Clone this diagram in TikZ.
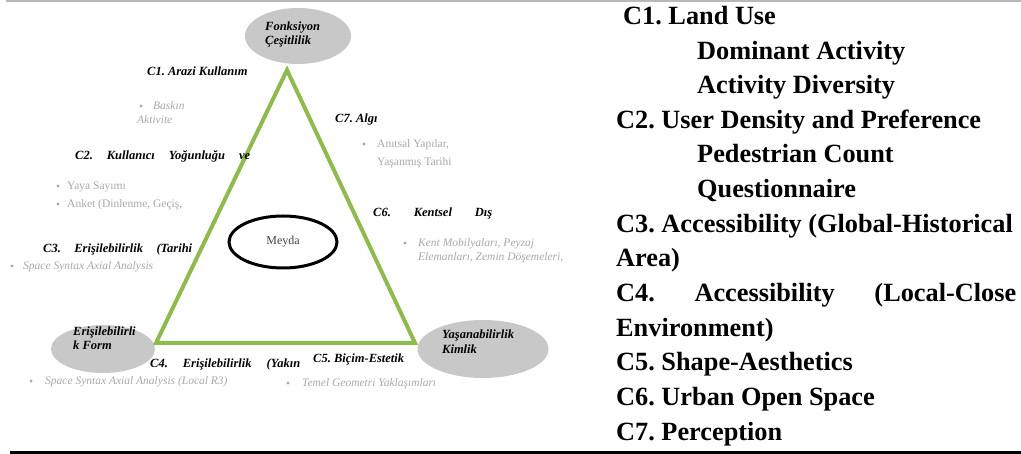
\documentclass[tikz,border=0pt]{standalone}
\usepackage{fontspec}
\setmainfont{Liberation Serif}
\usetikzlibrary{shapes.geometric}
\definecolor{tgreen}{HTML}{8DBB50}
\definecolor{egray}{HTML}{C8C8C8}
\definecolor{tgray}{HTML}{A8A8A8}
\tikzset{
  lbl/.style={anchor=base west,inner sep=0pt,font=\fontsize{12.5}{14}\selectfont\bfseries\itshape},
  gitxt/.style={anchor=base west,inner sep=0pt,text=tgray,font=\fontsize{11.5}{13}\selectfont\itshape},
  gutxt/.style={anchor=base west,inner sep=0pt,text=tgray,font=\fontsize{11.5}{13}\selectfont},
  rtxt/.style={anchor=base west,inner sep=0pt,font=\fontsize{26.3}{30}\selectfont\bfseries},
  oval/.style={ellipse,fill=egray,draw=none,inner sep=0pt},
  bul/.style={fill=tgray}
}
\begin{document}
\frenchspacing
\begin{tikzpicture}[x=1pt,y=-1pt]
\useasboundingbox (0,0) rectangle (1021,454);
% rules
\draw[line width=1.5pt,color=black!28] (6,1) -- (1021,1);
\draw[line width=2.5pt,color=black] (10,452.5) -- (1021,452.5);
% ellipses
\node[oval,minimum width=106pt,minimum height=56pt] (fonk) at (298,36) {};
\node[oval,minimum width=104pt,minimum height=48pt] (eris) at (103,349) {};
\node[oval,minimum width=131pt,minimum height=58pt] (yasa) at (483,349) {};
% triangle
\coordinate (A) at (287,70);
\coordinate (B) at (156,343);
\coordinate (C) at (415,343);
\draw[tgreen,line width=4pt,line join=miter] (A) -- (B) -- (C) -- cycle;
% Meyda
\node[ellipse,draw=black,line width=3pt,minimum width=108pt,minimum height=52pt,inner sep=0pt,font=\fontsize{12}{14}\selectfont,text=black!75] (meyda) at (283,242) {Meyda};
% ellipse labels
\node[lbl] (f1) at (265,31) {Fonksiyon};
\node[lbl] (f2) at (265,45) {Çeşitlilik};
\node[lbl] (e1) at (73,336) {Erişilebilirli};
\node[lbl] (e2) at (73,350) {k Form};
\node[lbl] (y1) at (442,339) {Yaşanabilirlik};
\node[lbl] (y2) at (442,354) {Kimlik};
% C1
\node[lbl] (c1) at (147,76) {C1. Arazi Kullanım};
\fill[bul] (141,106) circle (1.6);
\node[gitxt] (c1a) at (153,110) {Baskın};
\node[gitxt] (c1b) at (137,124) {Aktivite};
% C2
\node[lbl] (c2) at (75,160) {\hbox to 175pt{C2.\hfill Kullanıcı\hfill Yoğunluğu\hfill ve}};
\fill[bul] (58,186) circle (1.6);
\node[gutxt] (c2a) at (67,190) {Yaya Sayımı};
\fill[bul] (58,204) circle (1.6);
\node[gutxt] (c2b) at (67,208) {Anket (Dinlenme, Geçiş,};
% C3
\node[lbl] (c3) at (43,253) {\hbox to 149pt{C3.\hfill Erişilebilirlik\hfill (Tarihi}};
\fill[bul] (12,266) circle (1.6);
\node[gitxt] (c3a) at (23,270) {Space Syntax Axial Analysis};
% C7
\node[lbl] (c7) at (335,123) {C7. Algı};
\fill[bul] (364,144) circle (1.6);
\node[gutxt] (c7a) at (377,148) {Anıtsal Yapılar,};
\node[gutxt] (c7b) at (377,166) {Yaşanmış Tarihi};
% C6
\node[lbl] (c6) at (373,217) {\hbox to 119pt{C6.\hfill Kentsel\hfill Dış}};
\fill[bul] (405,243) circle (1.6);
\node[gitxt] (c6a) at (418,247) {Kent Mobilyaları, Peyzaj};
\node[gitxt] (c6b) at (418,261) {Elemanları, Zemin Döşemeleri,};
% C4
\node[lbl] (c4) at (150,368) {\hbox to 150pt{C4.\hfill Erişilebilirlik\hfill (Yakın}};
\fill[bul] (31,381) circle (1.6);
\node[gitxt] (c4a) at (45,385) {Space Syntax Axial Analysis (Local R3)};
% C5
\node[lbl] (c5) at (313,363) {C5. Biçim-Estetik};
\fill[bul] (288,383) circle (1.6);
\node[gitxt] (c5a) at (302,387) {Temel Geometri Yaklaşımları};
% right column
\node[rtxt] (r1) at (623,25) {C1. Land Use};
\node[rtxt] (r2) at (697,59.5) {Dominant Activity};
\node[rtxt] (r3) at (697,94) {Activity Diversity};
\node[rtxt] (r4) at (616,128.5) {C2. User Density and Preference};
\node[rtxt] (r5) at (697,163) {Pedestrian Count};
\node[rtxt] (r6) at (697,198) {Questionnaire};
\node[rtxt] (r7) at (616,232.5) {C3. Accessibility (Global-Historical};
\node[rtxt] (r8) at (616,267) {Area)};
\node[rtxt] (r9) at (616,302) {\hbox to 400pt{C4.\hfill Accessibility\hfill (Local-Close}};
\node[rtxt] (r10) at (616,336.5) {Environment)};
\node[rtxt] (r11) at (616,371) {C5. Shape-Aesthetics};
\node[rtxt] (r12) at (616,406) {C6. Urban Open Space};
\node[rtxt] (r13) at (616,440.5) {C7. Perception};
\end{tikzpicture}
\end{document}
